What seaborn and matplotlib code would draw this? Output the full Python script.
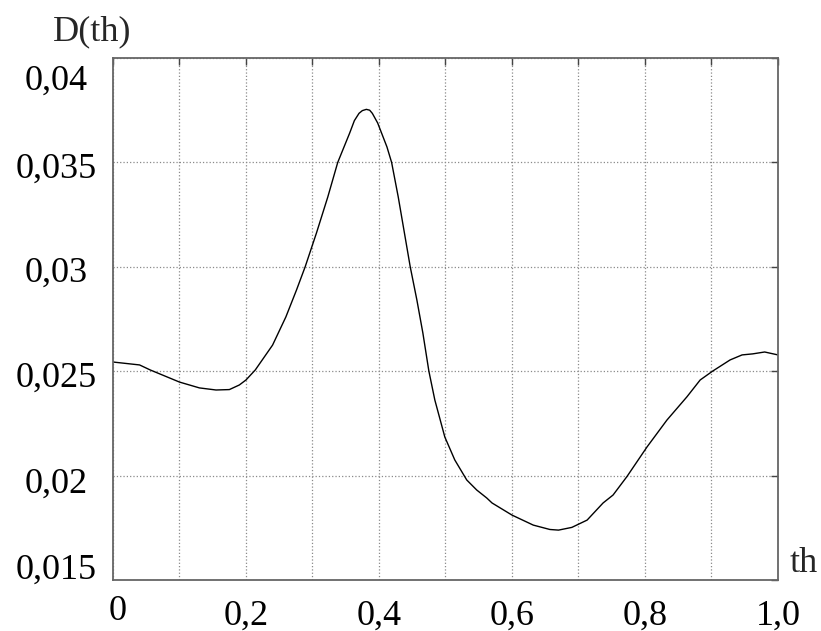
import matplotlib

matplotlib.use("Agg")

import matplotlib.pyplot as plt
import matplotlib.transforms as mtransforms
import pandas as pd
import seaborn as sns

# values
th_values = [
    0.000, 0.040, 0.056, 0.100, 0.130, 0.155, 0.175, 0.190, 0.200, 0.214,
    0.240, 0.260, 0.276, 0.289, 0.306, 0.323, 0.338, 0.356, 0.363, 0.370,
    0.375, 0.381, 0.386, 0.390, 0.398, 0.412, 0.419, 0.429, 0.447, 0.457,
    0.466, 0.475, 0.484, 0.499, 0.514, 0.532, 0.547, 0.562, 0.570, 0.600,
    0.632, 0.657, 0.670, 0.690, 0.713, 0.737, 0.752, 0.773, 0.803, 0.833,
    0.863, 0.883, 0.902, 0.928, 0.946, 0.962, 0.980, 1.000,
]
d_values = [
    0.02544, 0.02530, 0.02506, 0.02448, 0.02420, 0.02410, 0.02412, 0.02434, 0.02458, 0.02506,
    0.02625, 0.02760, 0.02889, 0.03000, 0.03162, 0.03334, 0.03500, 0.03641, 0.03700, 0.03735,
    0.03748, 0.03754, 0.03750, 0.03735, 0.03689, 0.03574, 0.03500, 0.03334, 0.03000, 0.02841,
    0.02683, 0.02501, 0.02362, 0.02185, 0.02075, 0.01979, 0.01931, 0.01893, 0.01869, 0.01811,
    0.01763, 0.01742, 0.01739, 0.01752, 0.01787, 0.01869, 0.01907, 0.01996, 0.02137, 0.02266,
    0.02377, 0.02458, 0.02501, 0.02554, 0.02578, 0.02583, 0.02592, 0.02578,
]

x_ticks = [0.0, 0.1, 0.2, 0.3, 0.4, 0.5, 0.6, 0.7, 0.8, 0.9, 1.0]
x_tick_labels = ["0", "", "0,2", "", "0,4", "", "0,6", "", "0,8", "", "1,0"]
y_ticks = [0.015, 0.02, 0.025, 0.03, 0.035, 0.04]
y_tick_labels = ["0,015", "0,02", "0,025", "0,03", "0,035", "0,04"]

sns.set_theme(style="white")
plt.rcParams["font.family"] = ["Liberation Serif", "DejaVu Serif"]
plt.rcParams["font.size"] = 26

figure = plt.figure(figsize=(8.21, 6.31), dpi=100)
axis = figure.add_axes([0.1376, 0.0808, 0.81, 0.8273])

frame = pd.DataFrame({"th": th_values, "D": d_values})
sns.lineplot(data=frame, x="th", y="D", color="black", linewidth=1.0,
             errorbar=None, ax=axis)

axis.set_xlim(0, 1)
axis.set_ylim(0.015, 0.04)
axis.set_xticks(x_ticks, x_tick_labels)
axis.set_yticks(y_ticks, y_tick_labels)
axis.set_xlabel("")
axis.set_ylabel("")
axis.grid(True, linestyle=":", color="#8a8a8a", linewidth=0.9)
axis.tick_params(direction="in", length=5, width=1, top=True, right=True,
                 color="#444444", labelsize=26, labelcolor="black")
axis.tick_params(axis="x", pad=14)
axis.tick_params(axis="y", pad=41)
for spine in axis.spines.values():
    spine.set_color("#666666")
    spine.set_linewidth(1.3)

# nudge labels the way the original layout has them
for label in axis.get_yticklabels():
    label.set_horizontalalignment("center")
y_shifts = [14, -5, -3, -2, -3, -19]
for label, shift in zip(axis.get_yticklabels(), y_shifts):
    label.set_transform(mtransforms.offset_copy(label.get_transform(), figure,
                                                x=0, y=shift, units="dots"))
first_x = axis.get_xticklabels()[0]
first_x.set_transform(mtransforms.offset_copy(first_x.get_transform(), figure,
                                              x=5, y=4, units="dots"))

figure.text(0.112, 0.9366, "D(th)", ha="center", va="baseline", fontsize=26)
figure.text(0.9623, 0.0935, "th", ha="left", va="baseline", fontsize=26)

figure.savefig("out.png", dpi=100)
plt.close(figure)
